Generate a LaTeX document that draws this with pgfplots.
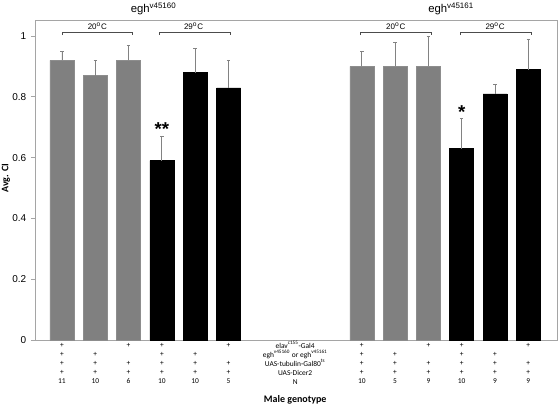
\documentclass[border=0pt]{standalone}
\usepackage{fontspec}
\setmainfont{Liberation Sans}
\newfontfamily\calfont{Carlito}
\usepackage{pgfplots}
\pgfplotsset{compat=1.18}
\definecolor{bargray}{RGB}{128,128,128}
\definecolor{axisgray}{RGB}{165,165,165}
\definecolor{errgray}{RGB}{130,130,130}
\pgfplotstableread{
x y e
0 0.92 0.03
1 0.87 0.05
2 0.92 0.05
9 0.90 0.05
10 0.90 0.08
11 0.90 0.10
}\graydata
\pgfplotstableread{
x y e
3 0.59 0.08
4 0.88 0.08
5 0.83 0.09
12 0.63 0.10
13 0.81 0.03
14 0.89 0.10
}\blackdata
\newcommand\tfont{\calfont\fontsize{5.6}{6.75}\selectfont\lineskiplimit=-10pt\relax}
\newcommand\s{\strut}
\begin{document}
\begin{tikzpicture}
\useasboundingbox (-26.25pt,-48.75pt) rectangle (392.25pt,255pt);
\begin{axis}[
  at={(0,0)}, anchor=south west,
  scale only axis, width=391.5pt, height=240pt,
  xmin=-0.81, xmax=14.86, ymin=0, ymax=1.053,
  clip=false,
  axis line style={axisgray, line width=0.6pt},
  xtick=\empty,
  ytick={0,0.2,0.4,0.6,0.8,1},
  ytick pos=left, tick align=outside, major tick length=3pt,
  ytick style={axisgray, line width=0.6pt},
  yticklabel style={font=\fontsize{7.5}{8}\selectfont, /pgf/number format/assume math mode=true},
  ybar, bar width=18pt,
  error bars/y dir=plus, error bars/y explicit,
  error bars/error bar style={errgray, line width=0.7pt},
  error bars/error mark options={rotate=90, mark size=1.3pt, errgray, line width=0.7pt},
]
\addplot[fill=bargray, draw=bargray!90, bar shift=0pt] table[x=x, y=y, y error=e] {\graydata};
\addplot[fill=black, draw=black, bar shift=0pt] table[x=x, y=y, y error=e] {\blackdata};

% titles
\node[anchor=base, font=\fontsize{8.5}{9}\selectfont] at (axis cs:2.75,1.077) {egh\textsuperscript{v45160}};
\node[anchor=base, font=\fontsize{8.5}{9}\selectfont] at (axis cs:11.68,1.077) {egh\textsuperscript{v45161}};

% brackets
\draw[black!70, line width=0.5pt] (axis cs:0,1.003) -- (axis cs:0,1.013) -- (axis cs:2.12,1.013) -- (axis cs:2.12,1.003);
\draw[black!70, line width=0.5pt] (axis cs:2.92,1.003) -- (axis cs:2.92,1.013) -- (axis cs:5.04,1.013) -- (axis cs:5.04,1.003);
\draw[black!70, line width=0.5pt] (axis cs:8.95,1.003) -- (axis cs:8.95,1.013) -- (axis cs:11.08,1.013) -- (axis cs:11.08,1.003);
\draw[black!70, line width=0.5pt] (axis cs:11.95,1.003) -- (axis cs:11.95,1.013) -- (axis cs:14.08,1.013) -- (axis cs:14.08,1.003);
\node[anchor=base, font=\fontsize{6}{7}\selectfont] at (axis cs:1.06,1.022) {20\textsuperscript{o}C};
\node[anchor=base, font=\fontsize{6}{7}\selectfont] at (axis cs:3.95,1.022) {29\textsuperscript{o}C};
\node[anchor=base, font=\fontsize{6}{7}\selectfont] at (axis cs:10.02,1.022) {20\textsuperscript{o}C};
\node[anchor=base, font=\fontsize{6}{7}\selectfont] at (axis cs:13.0,1.022) {29\textsuperscript{o}C};

% significance
\node[anchor=north, inner sep=0pt, font=\bfseries\fontsize{14}{14}\selectfont] at (axis cs:3,0.716) {**};
\node[anchor=north, inner sep=0pt, font=\bfseries\fontsize{14}{14}\selectfont] at (axis cs:12,0.771) {*};

% y label
\node[rotate=90, yshift=21.75pt, font=\calfont\bfseries\fontsize{7.5}{8}\selectfont] at (rel axis cs:0,0.506) {Avg. CI};

% genotype table
\tikzset{gt/.style={anchor=north, inner sep=0pt, align=center, font=\tfont, yshift=-1pt}}
\node[gt] at (axis cs:0,0) {\s+\\\s+\\\s+\\\s+\\\s 11};
\node[gt] at (axis cs:1,0) {\s\\\s+\\\s+\\\s+\\\s 10};
\node[gt] at (axis cs:2,0) {\s+\\\s\\\s+\\\s+\\\s 6};
\node[gt] at (axis cs:3,0) {\s+\\\s+\\\s+\\\s+\\\s 10};
\node[gt] at (axis cs:4,0) {\s\\\s+\\\s+\\\s+\\\s 10};
\node[gt] at (axis cs:5,0) {\s+\\\s\\\s+\\\s+\\\s 5};
\node[gt] at (axis cs:7,0) {\s elav\textsuperscript{c155}-Gal4\\\s egh\textsuperscript{v45160} or egh\textsuperscript{v45161}\\\s UAS-tubulin-Gal80\textsuperscript{ts}\\\s UAS-Dicer2\\\s N};
\node[gt] at (axis cs:9,0) {\s+\\\s+\\\s+\\\s+\\\s 10};
\node[gt] at (axis cs:10,0) {\s\\\s+\\\s+\\\s+\\\s 5};
\node[gt] at (axis cs:11,0) {\s+\\\s\\\s+\\\s+\\\s 9};
\node[gt] at (axis cs:12,0) {\s+\\\s+\\\s+\\\s+\\\s 10};
\node[gt] at (axis cs:13,0) {\s\\\s+\\\s+\\\s+\\\s 9};
\node[gt] at (axis cs:14,0) {\s+\\\s\\\s+\\\s+\\\s 9};
\node[anchor=base, font=\calfont\bfseries\fontsize{7.5}{8}\selectfont] at (axis cs:7,0) [yshift=-46.5pt] {Male genotype};
\end{axis}
\end{tikzpicture}
\end{document}
